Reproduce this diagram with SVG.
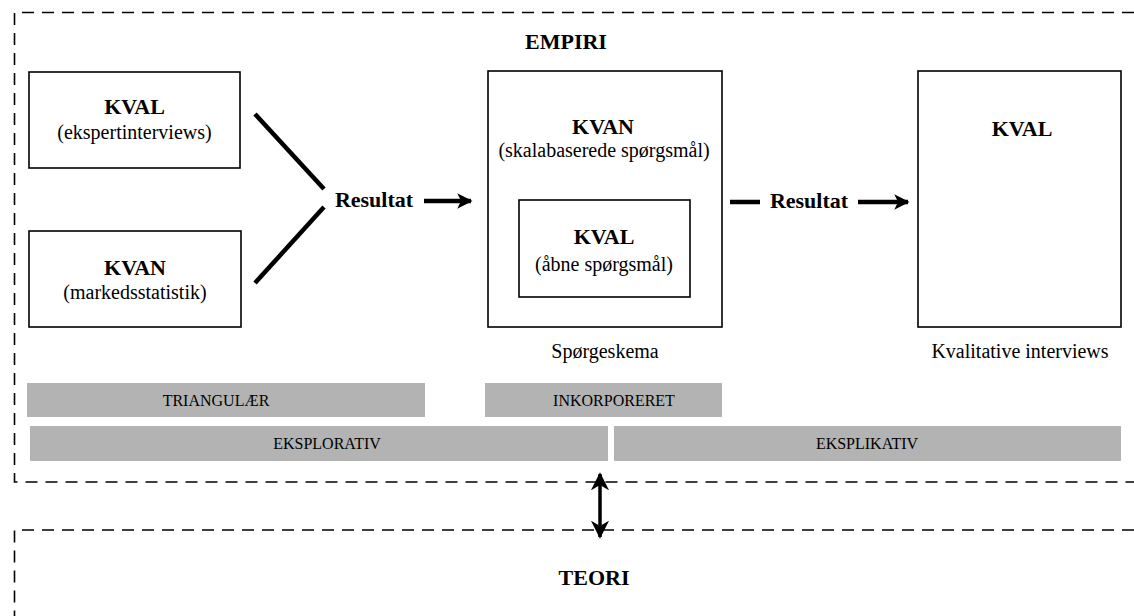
<svg xmlns="http://www.w3.org/2000/svg" width="1134" height="616" viewBox="0 0 1134 616">
<style>
.dash{fill:none;stroke:#000;stroke-width:1.6;stroke-dasharray:12 8}
.box{fill:#fff;stroke:#000;stroke-width:1.6}
.bar{fill:#b3b3b3}
.b{font-family:"Liberation Serif","Times New Roman",serif;font-weight:bold;font-size:22px;fill:#000;text-anchor:middle}
.r{font-family:"Liberation Serif","Times New Roman",serif;font-size:20px;fill:#000;text-anchor:middle}
.s{font-family:"Liberation Serif","Times New Roman",serif;font-size:16px;fill:#000;text-anchor:middle}
.ln{stroke:#000;stroke-width:4.5;fill:none}
</style>
<defs>
<marker id="ah" viewBox="0 0 10 10" refX="9" refY="5" markerWidth="3.4" markerHeight="3.4" orient="auto-start-reverse" markerUnits="strokeWidth">
<path d="M0,0 L10,5 L0,10 L2.5,5 Z" fill="#000"/>
</marker>
<marker id="ah2" viewBox="0 0 10 10" refX="9" refY="5" markerWidth="5.2" markerHeight="5.2" orient="auto-start-reverse" markerUnits="strokeWidth">
<path d="M0,0 L10,5 L0,10 L3,5 Z" fill="#000"/>
</marker>
</defs>
<g id="empiri-frame">
<path class="dash" d="M1134,12.5 H14.5 V482 H1134"/>
<text class="b" x="566" y="49">EMPIRI</text>
</g>
<g id="teori-frame">
<path class="dash" d="M1134,530 H14.5 V616"/>
<text class="b" x="594" y="585">TEORI</text>
</g>
<g id="kval-ekspert">
<rect class="box" x="29" y="72" width="211" height="96"/>
<text class="b" x="134.5" y="114">KVAL</text>
<text class="r" x="134.5" y="139">(ekspertinterviews)</text>
</g>
<g id="kvan-marked">
<rect class="box" x="29" y="231" width="212" height="96"/>
<text class="b" x="135" y="275">KVAN</text>
<text class="r" x="135" y="299">(markedsstatistik)</text>
</g>
<g id="spoergeskema">
<rect class="box" x="488" y="71" width="234" height="256"/>
<text class="b" x="603" y="134">KVAN</text>
<text class="r" x="604" y="157">(skalabaserede spørgsmål)</text>
<text class="r" x="605" y="358">Spørgeskema</text>
</g>
<g id="kval-aabne">
<rect class="box" x="519" y="200" width="171" height="97"/>
<text class="b" x="604" y="244">KVAL</text>
<text class="r" x="604" y="271">(åbne spørgsmål)</text>
</g>
<g id="kval-interviews">
<rect class="box" x="918" y="71" width="203" height="256"/>
<text class="b" x="1022" y="136">KVAL</text>
<text class="r" x="1020" y="358">Kvalitative interviews</text>
</g>
<g id="resultat-1">
<text class="b" x="374" y="207">Resultat</text>
</g>
<g id="resultat-2">
<text class="b" x="809" y="208">Resultat</text>
</g>
<g id="bars">
<rect class="bar" x="27" y="383" width="398" height="34"/>
<text class="s" x="216" y="406">TRIANGULÆR</text>
<rect class="bar" x="485" y="383" width="237" height="34"/>
<text class="s" x="614" y="406">INKORPORERET</text>
<rect class="bar" x="30" y="426" width="578" height="35"/>
<text class="s" x="327" y="449">EKSPLORATIV</text>
<rect class="bar" x="614" y="426" width="507" height="35"/>
<text class="s" x="867" y="449">EKSPLIKATIV</text>
</g>
<g id="connectors">
<line class="ln" x1="255" y1="114" x2="324" y2="189"/>
<line class="ln" x1="324" y1="207" x2="255" y2="283"/>
<line class="ln" x1="424" y1="201" x2="471" y2="201" marker-end="url(#ah)"/>
<line class="ln" x1="730" y1="202" x2="760" y2="202"/>
<line class="ln" x1="858" y1="202" x2="908" y2="202" marker-end="url(#ah)"/>
<line stroke="#000" stroke-width="3.5" x1="600" y1="474" x2="600" y2="537" marker-start="url(#ah2)" marker-end="url(#ah2)"/>
</g>
</svg>
